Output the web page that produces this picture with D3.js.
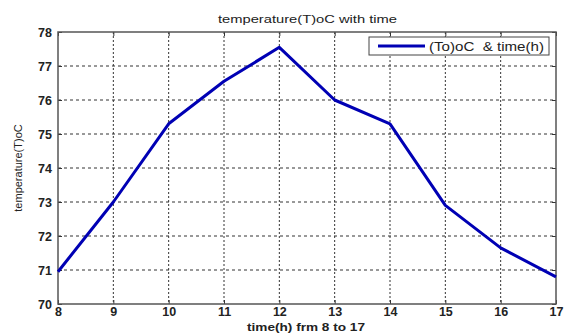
<!DOCTYPE html>
<html><head><meta charset="utf-8">
<script src="https://cdn.jsdelivr.net/npm/d3@7"></script>
<style>body{margin:0;background:#fff}svg{display:block}</style>
</head><body><svg id="c" width="568" height="334"></svg>
<script>
const hours = [8, 9, 10, 11, 12, 13, 14, 15, 16, 17];
const temps = [70.95, 73.0, 75.3, 76.55, 77.55, 76.0, 75.3, 72.9, 71.65, 70.8];
const xTicks = [8, 9, 10, 11, 12, 13, 14, 15, 16, 17];
const yTicks = [70, 71, 72, 73, 74, 75, 76, 77, 78];
const titleText = "temperature(T)oC with time";
const xLabel = "time(h) frm 8 to 17";
const yLabel = "temperature(T)oC";
const legendLabel = "(To)oC  & time(h)";

const svg = d3.select("#c");
const L = 58, R = 556, T = 32, B = 304;
const x = d3.scaleLinear().domain([8, 17]).range([L, R]);
const y = d3.scaleLinear().domain([70, 78]).range([B, T]);
const font = "Arial, 'Liberation Sans', sans-serif";

// grid
const g = svg.append("g");
g.selectAll(".vg").data(xTicks.slice(1, -1)).join("line")
  .attr("x1", d => x(d)).attr("x2", d => x(d)).attr("y1", T).attr("y2", B)
  .attr("stroke", "#333").attr("stroke-width", 1).attr("stroke-dasharray", "2,2");
g.selectAll(".hg").data(yTicks.slice(1, -1)).join("line")
  .attr("y1", d => y(d)).attr("y2", d => y(d)).attr("x1", L).attr("x2", R)
  .attr("stroke", "#333").attr("stroke-width", 1).attr("stroke-dasharray", "3,3");

// axes
const xa = svg.append("g").attr("transform", `translate(0,${B})`)
  .call(d3.axisBottom(x).tickValues(xTicks).tickSize(-4).tickPadding(3).tickFormat(d3.format("d")));
const xt = svg.append("g").attr("transform", `translate(0,${T})`)
  .call(d3.axisTop(x).tickValues(xTicks).tickSize(-4).tickFormat(""));
const ya = svg.append("g").attr("transform", `translate(${L},0)`)
  .call(d3.axisLeft(y).tickValues(yTicks).tickSize(-4).tickPadding(6).tickFormat(d3.format("d")));
const yr = svg.append("g").attr("transform", `translate(${R},0)`)
  .call(d3.axisRight(y).tickValues(yTicks).tickSize(-4).tickFormat(""));
[xa, xt, ya, yr].forEach(a => {
  a.selectAll("path").remove();
  a.selectAll("line").attr("stroke", "#333");
  a.selectAll("text").attr("font-family", font).attr("font-size", 12.5).attr("font-weight", "bold").attr("fill", "#222");
});
svg.append("rect").attr("x", L).attr("y", T).attr("width", R - L).attr("height", B - T)
  .attr("fill", "none").attr("stroke", "#555").attr("stroke-width", 1.5);

// line
const line = d3.line().x((d, i) => x(hours[i])).y(d => y(d));
svg.append("path").datum(temps).attr("d", line)
  .attr("fill", "none").attr("stroke", "#0000b4").attr("stroke-width", 3).attr("stroke-linejoin", "round");

// title & labels
svg.append("text").attr("x", 218).attr("y", 23)
  .attr("textLength", 179).attr("lengthAdjust", "spacingAndGlyphs")
  .attr("font-family", font).attr("font-size", 11.5).attr("fill", "#222").text(titleText);
svg.append("text").attr("x", 247).attr("y", 331)
  .attr("textLength", 118).attr("lengthAdjust", "spacingAndGlyphs")
  .attr("font-family", font).attr("font-size", 11).attr("font-weight", "bold").attr("fill", "#222").text(xLabel);
svg.append("text").attr("transform", `translate(22,${(T + B) / 2}) rotate(-90)`).attr("text-anchor", "middle")
  .attr("font-family", font).attr("font-size", 11).attr("fill", "#222").text(yLabel);

// legend
const lg = svg.append("g");
lg.append("rect").attr("x", 369).attr("y", 37).attr("width", 180).attr("height", 18)
  .attr("fill", "#fff").attr("stroke", "#444").attr("stroke-width", 1);
lg.append("line").attr("x1", 378).attr("x2", 425).attr("y1", 46).attr("y2", 46)
  .attr("stroke", "#0000b4").attr("stroke-width", 3);
lg.append("text").attr("x", 429).attr("y", 50.5).attr("font-family", font).attr("font-size", 12)
  .attr("textLength", 115).attr("lengthAdjust", "spacingAndGlyphs")
  .style("white-space", "pre").attr("fill", "#222").text(legendLabel);
</script></body></html>
